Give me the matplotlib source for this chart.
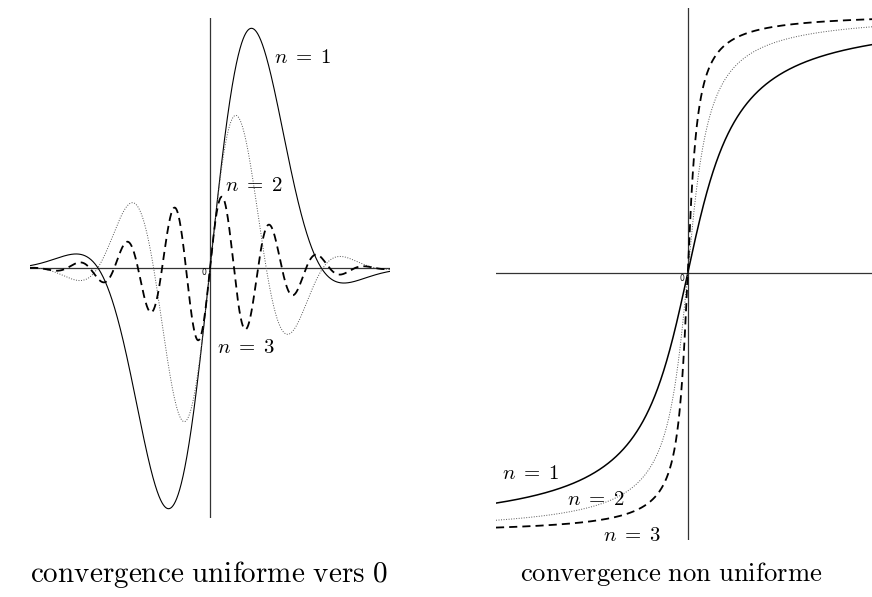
import numpy as np
import matplotlib
matplotlib.use("Agg")
import matplotlib.pyplot as plt

plt.rcParams['mathtext.fontset'] = 'cm'

W, H = 872, 597

# ---- data ----
# left panel: f_n(x) = A_n * sin(w_n x) * exp(-x^2)
left_n = [1, 2, 3]
left_amp = [4.04, 2.05, 0.883]
left_freq = [2.335, 4.63, 10.87]
left_xlim = (-2.169, 2.169)
left_ylim = (-3.006, 3.018)

# right panel: g_n(x) = arctan(k_n x)
right_n = [1, 2, 3]
right_k = [1.0, 2.27, 4.87]
right_xlim = (-5.31, 5.105)
right_ylim = (-1.607, 1.598)

left_labels = ["$n\\;=\\;1$", "$n\\;=\\;2$", "$n\\;=\\;3$"]
right_labels = ["$n\\;=\\;1$", "$n\\;=\\;2$", "$n\\;=\\;3$"]
captions = ["$\\mathrm{convergence\\ uniforme\\ vers\\ 0}$",
            "$\\mathrm{convergence\\ non\\ uniforme}$"]

styles = [
    dict(color='black', lw=0.8, ls='-'),
    dict(color='#555555', lw=0.7, ls=(0, (1, 1.6))),
    dict(color='black', lw=1.3, ls=(0, (4.5, 2.8))),
]
right_styles = [
    dict(color='black', lw=1.1, ls='-'),
    dict(color='#555555', lw=0.7, ls=(0, (1, 1.6))),
    dict(color='black', lw=1.3, ls=(0, (4.5, 2.8))),
]

fig = plt.figure(figsize=(W / 100, H / 100), dpi=100)


def px_axes(x0, y0, x1, y1):
    return fig.add_axes([x0 / W, 1 - y1 / H, (x1 - x0) / W, (y1 - y0) / H])


# left panel
axL = px_axes(30, 18, 390, 518)
axL.set_xlim(*left_xlim)
axL.set_ylim(*left_ylim)
axL.axis('off')
axL.axhline(0, color='#333333', lw=0.9)
axL.axvline(0, color='#333333', lw=0.9)
xl = np.linspace(left_xlim[0], left_xlim[1], 2000)
for a, w, st in zip(left_amp, left_freq, styles):
    axL.plot(xl, a * np.sin(w * xl) * np.exp(-xl ** 2), **st)

# right panel
axR = px_axes(496, 8, 872, 540)
axR.set_xlim(*right_xlim)
axR.set_ylim(*right_ylim)
axR.axis('off')
axR.axhline(0, color='#333333', lw=0.9)
axR.axvline(0, color='#333333', lw=0.9)
xr = np.linspace(right_xlim[0], right_xlim[1], 3000)
for k, st in zip(right_k, right_styles):
    axR.plot(xr, np.arctan(k * xr), **st)


def ftext(x, y, s, **kw):
    fig.text(x / W, 1 - y / H, s, **kw)


fs = 15
ftext(274, 57, left_labels[0], fontsize=fs, ha='left', va='center')
ftext(225, 185, left_labels[1], fontsize=fs, ha='left', va='center')
ftext(217, 347, left_labels[2], fontsize=fs, ha='left', va='center')
ftext(502, 473, right_labels[0], fontsize=fs, ha='left', va='center')
ftext(567, 499, right_labels[1], fontsize=fs, ha='left', va='center')
ftext(603, 535, right_labels[2], fontsize=fs, ha='left', va='center')

ftext(203.5, 272.7, "0", fontsize=5.5, ha='center', va='center', family='DejaVu Sans')
ftext(681.7, 278.3, "0", fontsize=5.5, ha='center', va='center', family='DejaVu Sans')

ftext(209, 574, captions[0], fontsize=21, ha='center', va='center')
ftext(671, 574, captions[1], fontsize=19.2, ha='center', va='center')

fig.savefig("out.png", dpi=100)
